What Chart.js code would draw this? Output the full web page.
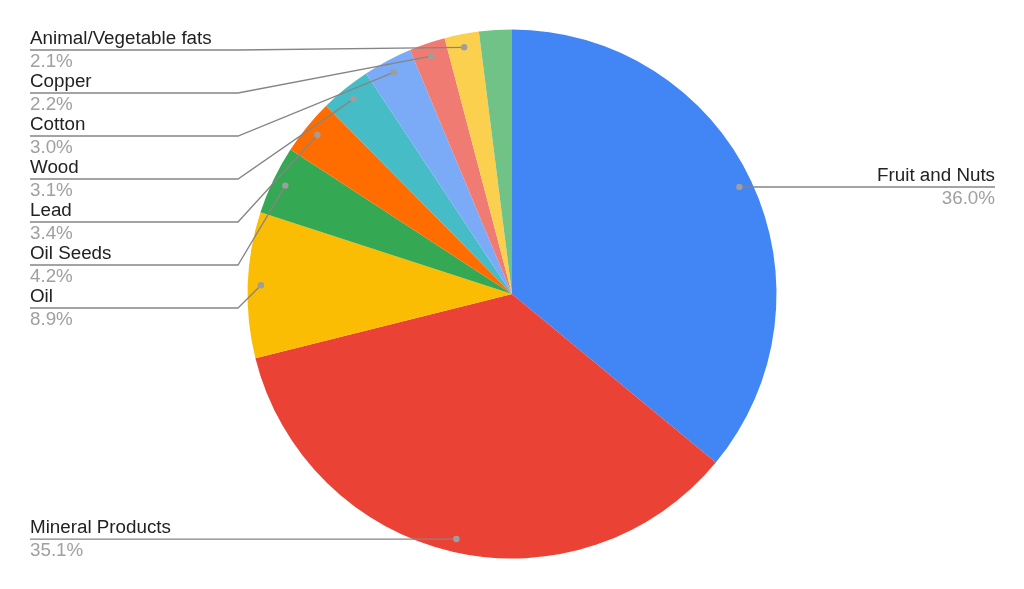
<!DOCTYPE html>
<html>
<head>
<meta charset="utf-8">
<script src="https://cdn.jsdelivr.net/npm/chart.js@4.4.1/dist/chart.umd.min.js"></script>
<style>
  html, body { margin: 0; padding: 0; background: #fff; }
  #wrap { width: 1024px; height: 589px; position: relative; }
</style>
</head>
<body>
<div id="wrap"><canvas id="grafico"></canvas></div>
<script>
// dados do gráfico
const categorias = ['Fruit and Nuts', 'Mineral Products', 'Oil', 'Oil Seeds', 'Lead', 'Wood', 'Cotton', 'Copper', 'Animal/Vegetable fats', 'Other'];
const valores = [36.0, 35.1, 8.9, 4.2, 3.4, 3.1, 3.0, 2.2, 2.1, 2.0];
const cores = ['#4285F4', '#EA4335', '#FBBC04', '#34A853', '#FF6D01', '#46BDC6', '#7BAAF7', '#F07B72', '#FCD04F', '#71C287'];
const rotulosOcultos = ['Other'];

const FONTE = '18.8px "Liberation Sans", Arial, sans-serif';

// rótulos com linhas de chamada, no estilo do Google Sheets
const rotulosPlugin = {
    id: 'rotulos',
    afterDraw(chart) {
        const ctx = chart.ctx;
        const meta = chart.getDatasetMeta(0);
        const total = valores.reduce((a, b) => a + b, 0);
        const area = chart.chartArea;
        const esquerda = [], direita = [];

        meta.data.forEach((arc, i) => {
            if (rotulosOcultos.includes(categorias[i])) return;
            const p = arc.getProps(['x', 'y', 'startAngle', 'endAngle', 'outerRadius'], true);
            const meio = (p.startAngle + p.endAngle) / 2;
            const px = p.x + Math.cos(meio) * p.outerRadius * 0.95;
            const py = p.y + Math.sin(meio) * p.outerRadius * 0.95;
            const item = { i, px, py, pct: (valores[i] / total * 100).toFixed(1) + '%' };
            (Math.cos(meio) >= 0 ? direita : esquerda).push(item);
        });

        // empurra os rótulos para baixo para não sobrepor
        [esquerda, direita].forEach(lado => {
            lado.sort((a, b) => a.py - b.py);
            let anterior = -Infinity;
            lado.forEach(it => {
                it.ly = Math.max(it.py, anterior + 43, 50);
                anterior = it.ly;
            });
        });

        ctx.save();
        ctx.font = FONTE;
        ctx.lineWidth = 1.3;
        ctx.strokeStyle = '#858585';

        esquerda.forEach(it => {
            ctx.beginPath();
            ctx.moveTo(30, it.ly);
            ctx.lineTo(238, it.ly);
            ctx.lineTo(it.px, it.py);
            ctx.stroke();
            ctx.textAlign = 'left';
            ctx.fillStyle = '#222222';
            ctx.fillText(categorias[it.i], 30, it.ly - 6);
            ctx.fillStyle = '#a0a0a0';
            ctx.fillText(it.pct, 30, it.ly + 17);
        });

        direita.forEach(it => {
            const xFim = area.right - 29;
            ctx.beginPath();
            ctx.moveTo(it.px, it.py);
            ctx.lineTo(xFim, it.ly);
            ctx.stroke();
            ctx.textAlign = 'right';
            ctx.fillStyle = '#222222';
            ctx.fillText(categorias[it.i], xFim, it.ly - 6);
            ctx.fillStyle = '#a0a0a0';
            ctx.fillText(it.pct, xFim, it.ly + 17);
        });

        // pontinhos nas fatias
        ctx.fillStyle = '#9e9e9e';
        esquerda.concat(direita).forEach(it => {
            ctx.beginPath();
            ctx.arc(it.px, it.py, 3.2, 0, Math.PI * 2);
            ctx.fill();
        });
        ctx.restore();
    }
};

new Chart(document.getElementById('grafico'), {
    type: 'pie',
    data: {
        labels: categorias,
        datasets: [{
            data: valores,
            backgroundColor: cores,
            borderWidth: 0
        }]
    },
    options: {
        responsive: true,
        maintainAspectRatio: false,
        animation: false,
        layout: { padding: { top: 29.5, bottom: 30.5, left: 0, right: 0 } },
        plugins: {
            legend: { display: false },
            tooltip: { enabled: false }
        }
    },
    plugins: [rotulosPlugin]
});
</script>
</body>
</html>
